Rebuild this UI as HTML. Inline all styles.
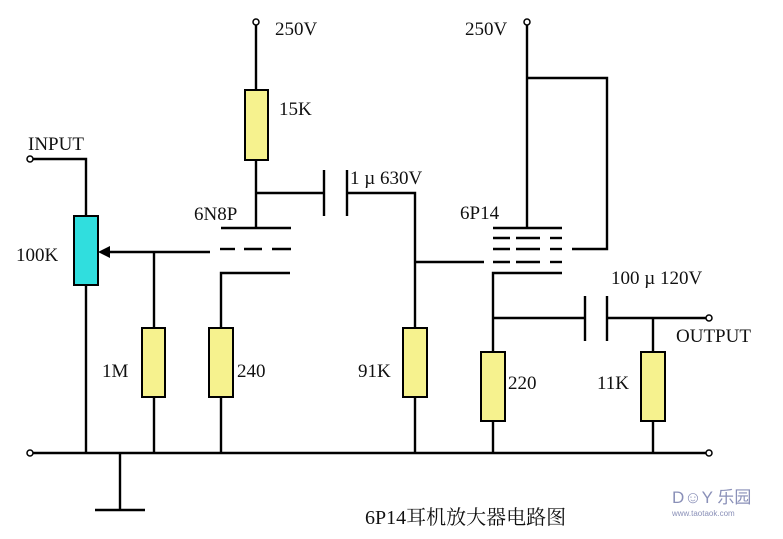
<!DOCTYPE html>
<html><head><meta charset="utf-8"><style>
body{margin:0;background:#fff}
svg{display:block}
text{font-family:"Liberation Serif","Noto Serif CJK SC",serif;font-size:19px;fill:#111}
</style></head><body>
<svg width="783" height="539" viewBox="0 0 783 539" xmlns="http://www.w3.org/2000/svg">
<g stroke="#000" stroke-width="2.4" fill="none">
<!-- input -->
<polyline points="33,159 86,159 86,216"/>
<line x1="86" y1="285" x2="86" y2="453"/>
<!-- wiper -->
<line x1="108" y1="252" x2="210" y2="252"/>
<line x1="154" y1="252" x2="154" y2="328"/>
<line x1="154" y1="397" x2="154" y2="453"/>
<!-- 6N8P -->
<line x1="256" y1="25" x2="256" y2="90"/>
<line x1="256" y1="160" x2="256" y2="228"/>
<line x1="221" y1="228" x2="291" y2="228"/>
<line x1="220" y1="249" x2="235" y2="249"/>
<line x1="244" y1="249" x2="262" y2="249"/>
<line x1="272" y1="249" x2="291" y2="249"/>
<polyline points="290,273 221,273 221,328"/>
<line x1="221" y1="397" x2="221" y2="453"/>
<!-- coupling cap -->
<line x1="256" y1="193" x2="324" y2="193"/>
<line x1="324" y1="170" x2="324" y2="216"/>
<line x1="347" y1="170" x2="347" y2="216"/>
<polyline points="347,193 415,193 415,328"/>
<line x1="415" y1="397" x2="415" y2="453"/>
<line x1="415" y1="262" x2="484" y2="262"/>
<!-- 6P14 -->
<line x1="527" y1="25" x2="527" y2="228"/>
<line x1="493" y1="228" x2="562" y2="228"/>
<g>
<line x1="493" y1="238" x2="510" y2="238"/><line x1="516" y1="238" x2="540" y2="238"/><line x1="550" y1="238" x2="562" y2="238"/>
<line x1="493" y1="249" x2="510" y2="249"/><line x1="516" y1="249" x2="540" y2="249"/><line x1="550" y1="249" x2="562" y2="249"/>
<line x1="493" y1="262" x2="510" y2="262"/><line x1="516" y1="262" x2="540" y2="262"/><line x1="550" y1="262" x2="562" y2="262"/>
</g>
<polyline points="572,249 607,249 607,78 527,78"/>
<polyline points="562,273 493,273 493,352"/>
<line x1="493" y1="421" x2="493" y2="453"/>
<line x1="493" y1="318" x2="585" y2="318"/>
<line x1="585" y1="296" x2="585" y2="341"/>
<line x1="607" y1="296" x2="607" y2="341"/>
<line x1="607" y1="318" x2="706" y2="318"/>
<line x1="653" y1="318" x2="653" y2="352"/>
<line x1="653" y1="421" x2="653" y2="453"/>
<!-- ground -->
<line x1="33" y1="453" x2="706" y2="453"/>
<line x1="120" y1="453" x2="120" y2="510"/>
<line x1="95" y1="510" x2="145" y2="510"/>
</g>
<polygon points="98,252 110,246 110,258" fill="#000"/>
<g stroke="#000" stroke-width="1.5" fill="#fff">
<circle cx="30" cy="159" r="3"/><circle cx="30" cy="453" r="3"/>
<circle cx="709" cy="318" r="3"/><circle cx="709" cy="453" r="3"/>
<circle cx="256" cy="22" r="3"/><circle cx="527" cy="22" r="3"/>
</g>
<g stroke="#000" stroke-width="2" fill="#f6f28e">
<rect x="245" y="90" width="23" height="70"/>
<rect x="142" y="328" width="23" height="69"/>
<rect x="209" y="328" width="24" height="69"/>
<rect x="403" y="328" width="24" height="69"/>
<rect x="481" y="352" width="24" height="69"/>
<rect x="641" y="352" width="24" height="69"/>
<rect x="74" y="216" width="24" height="69" fill="#30dede"/>
</g>
<text x="275" y="35">250V</text>
<text x="465" y="35">250V</text>
<text x="279" y="115">15K</text>
<text x="28" y="150">INPUT</text>
<text x="16" y="261">100K</text>
<text x="194" y="220">6N8P</text>
<text x="350" y="184">1 µ 630V</text>
<text x="460" y="219">6P14</text>
<text x="611" y="284">100 µ 120V</text>
<text x="676" y="342">OUTPUT</text>
<text x="102" y="377">1M</text>
<text x="237" y="377">240</text>
<text x="358" y="377">91K</text>
<text x="508" y="389">220</text>
<text x="597" y="389">11K</text>
<text x="365" y="524" style="font-size:20px">6P14耳机放大器电路图</text>
<text x="672" y="503" style="font-family:'Liberation Sans',sans-serif;font-size:17px;fill:#8a90b8">D☺Y 乐园</text>
<text x="672" y="516" style="font-family:'Liberation Sans',sans-serif;font-size:8px;fill:#8a90b8">www.taotaok.com</text>
</svg>
</body></html>
